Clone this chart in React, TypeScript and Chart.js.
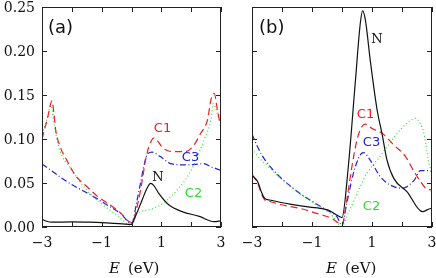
import { useEffect, useRef } from "react";
import { Chart, registerables } from "chart.js";
Chart.register(...registerables);

// ---- axes ----
const xTicks = [-3, -2, -1, 0, 1, 2, 3];
const xTickLabels = ["−3", "", "−1", "", "1", "", "3"];
const yTicks = [0, 0.05, 0.1, 0.15, 0.2, 0.25];
const yTickLabels = ["0.00", "0.05", "0.10", "0.15", "0.20", "0.25"];

// ---- panel (a) ----
const aNx = [-3, -2.85, -2.67, -2, -1.5, -1, -0.3, 0, 0.13, 0.36, 0.52, 0.64, 0.75, 0.92, 1.26, 1.7, 2.27, 2.77, 3];
const aNy = [0.0087, 0.0065, 0.0055, 0.0058, 0.0055, 0.005, 0.0035, 0.003, 0.012, 0.031, 0.044, 0.0495, 0.047, 0.038, 0.025, 0.0175, 0.012, 0.006, 0.007];

const aC1x = [-3, -2.82, -2.66, -2.6, -2.54, -2.39, -2.17, -1.89, -1.5, -1.11, -0.71, -0.37, 0, 0.24, 0.36, 0.47, 0.58, 0.75, 1.08, 1.42, 1.81, 2.09, 2.32, 2.55, 2.66, 2.77, 2.88, 3];
const aC1y = [0.1, 0.123, 0.1435, 0.129, 0.11, 0.091, 0.076, 0.059, 0.046, 0.034, 0.025, 0.016, 0.005, 0.031, 0.053, 0.076, 0.091, 0.101, 0.089, 0.0856, 0.0856, 0.093, 0.1065, 0.122, 0.144, 0.152, 0.133, 0.112];

const aC2x = [-3, -2.85, -2.7, -2.58, -2.45, -2, -1.5, -0.95, -0.49, 0, 0.19, 0.52, 0.97, 1.42, 1.76, 2.09, 2.43, 2.66, 2.74, 2.94, 3];
const aC2y = [0.106, 0.12, 0.138, 0.115, 0.092, 0.065, 0.042, 0.025, 0.0136, 0.002, 0.0155, 0.019, 0.025, 0.038, 0.0515, 0.0705, 0.099, 0.1216, 0.14, 0.122, 0.118];

const aC3x = [-3, -2.56, -2.23, -1.78, -1.27, -0.82, -0.37, 0, 0.19, 0.3, 0.41, 0.52, 0.69, 0.97, 1.31, 1.87, 2.43, 2.66, 2.94, 3];
const aC3y = [0.0716, 0.061, 0.053, 0.044, 0.0345, 0.025, 0.0155, 0.004, 0.031, 0.0496, 0.0685, 0.082, 0.085, 0.08, 0.072, 0.0705, 0.072, 0.0685, 0.065, 0.064];

// ---- panel (b) ----
const bNx = [-3, -2.92, -2.81, -2.69, -2.58, -2.41, -1.74, -1.07, -0.73, -0.46, -0.12, 0, 0.21, 0.44, 0.61, 0.69, 0.78, 0.94, 1.17, 1.34, 1.5, 1.73, 2.17, 2.68, 2.96, 3];
const bNy = [0.059, 0.056, 0.0515, 0.04, 0.0326, 0.0307, 0.026, 0.0225, 0.0212, 0.0193, 0.0125, 0.0106, 0.0685, 0.163, 0.2315, 0.2455, 0.235, 0.19, 0.133, 0.105, 0.076, 0.055, 0.04, 0.0174, 0.021, 0.021];

const bC1x = [-3, -2.92, -2.81, -2.69, -2.58, -2.41, -1.97, -1.41, -0.85, -0.35, 0, 0.16, 0.33, 0.5, 0.66, 0.78, 1.0, 1.34, 1.73, 2.12, 2.4, 2.62, 2.79, 3];
const bC1y = [0.059, 0.056, 0.05, 0.038, 0.031, 0.029, 0.025, 0.0212, 0.0155, 0.0099, 0.003, 0.0307, 0.0685, 0.099, 0.114, 0.117, 0.112, 0.1065, 0.093, 0.08, 0.063, 0.0515, 0.044, 0.042];

const bC2x = [-3, -2.75, -2.41, -1.97, -1.41, -0.85, -0.4, 0, 0.21, 0.5, 0.83, 1.17, 1.5, 1.84, 2.17, 2.45, 2.6, 2.73, 2.79, 2.9, 3];
const bC2y = [0.089, 0.078, 0.067, 0.053, 0.038, 0.025, 0.0155, 0.001, 0.0155, 0.038, 0.061, 0.076, 0.091, 0.1065, 0.118, 0.1235, 0.118, 0.1065, 0.095, 0.072, 0.062];

const bC3x = [-3, -2.92, -2.64, -2.19, -1.63, -1.07, -0.51, -0.17, 0, 0.16, 0.38, 0.61, 0.72, 0.94, 1.28, 1.61, 2.0, 2.4, 2.62, 2.85, 3];
const bC3y = [0.1055, 0.099, 0.08, 0.061, 0.044, 0.0307, 0.0193, 0.0117, 0.002, 0.027, 0.061, 0.082, 0.0845, 0.076, 0.057, 0.0477, 0.044, 0.053, 0.064, 0.064, 0.063];

const RED = "#ee2020";
const GREEN = "#30dd30";
const BLUE = "#2020dd";
const BLACK = "#111111";

const pts = (xs: number[], ys: number[]) => xs.map((x, i) => ({ x, y: ys[i] }));

function series(label: string, xs: number[], ys: number[], color: string, dash: number[]) {
  return {
    label,
    data: pts(xs, ys),
    borderColor: color,
    borderWidth: 1.2,
    borderDash: dash,
    pointRadius: 0,
    fill: false,
    cubicInterpolationMode: "monotone" as const,
  };
}

type Lbl = { text: string; x: number; y: number; color: string; font: string };

function makeDecor(opts: {
  showY: boolean;
  panel: string;
  panelX: number;
  eX: number;
  evX: number;
  labels: Lbl[];
}) {
  return {
    id: "decor" + opts.panel,
    afterDraw(chart: any) {
      const ctx = chart.ctx as CanvasRenderingContext2D;
      const { left, right, top, bottom } = chart.chartArea;
      const xs = chart.scales.x;
      const ys = chart.scales.y;
      ctx.save();
      ctx.strokeStyle = "#222";
      ctx.lineWidth = 1;
      ctx.strokeRect(left + 0.5, top + 0.5, right - left - 1, bottom - top - 1);
      ctx.beginPath();
      xTicks.forEach((v) => {
        const p = Math.round(xs.getPixelForValue(v)) + 0.5;
        ctx.moveTo(p, bottom);
        ctx.lineTo(p, bottom - 5);
        ctx.moveTo(p, top);
        ctx.lineTo(p, top + 5);
      });
      yTicks.forEach((v) => {
        const p = Math.round(ys.getPixelForValue(v)) + 0.5;
        ctx.moveTo(left, p);
        ctx.lineTo(left + 5, p);
        ctx.moveTo(right, p);
        ctx.lineTo(right - 5, p);
      });
      ctx.stroke();

      ctx.fillStyle = "#111";
      ctx.font = "14px 'DejaVu Serif'";
      ctx.textBaseline = "alphabetic";
      ctx.textAlign = "center";
      xTicks.forEach((v, i) => {
        const t = xTickLabels[i];
        if (!t) return;
        ctx.fillText(t, xs.getPixelForValue(v), 247);
      });
      if (opts.showY) {
        ctx.textAlign = "right";
        yTicks.forEach((v, i) => {
          ctx.fillText(yTickLabels[i], left - 7, ys.getPixelForValue(v) + 5);
        });
      }
      // axis title
      ctx.textAlign = "left";
      ctx.font = "italic 15px 'DejaVu Serif'";
      ctx.fillText("E", opts.eX, 273);
      ctx.font = "15px 'DejaVu Serif'";
      ctx.fillText("(eV)", opts.evX, 273);

      // panel label
      ctx.font = "18px 'DejaVu Sans'";
      ctx.textBaseline = "middle";
      ctx.fillText(opts.panel, opts.panelX, 28);

      // curve labels
      ctx.textAlign = "center";
      opts.labels.forEach((l) => {
        ctx.fillStyle = l.color;
        ctx.font = l.font;
        ctx.fillText(l.text, l.x, l.y);
      });
      ctx.restore();
    },
  };
}

const SANS = "13px 'DejaVu Sans'";
const SERIF = "13px 'DejaVu Serif'";

function makeChart(
  canvas: HTMLCanvasElement,
  padding: { left: number; right: number; top: number; bottom: number },
  datasets: any[],
  plugin: any
) {
  return new Chart(canvas, {
    type: "line",
    data: { datasets },
    options: {
      animation: false,
      responsive: false,
      devicePixelRatio: 1,
      layout: { padding },
      plugins: { legend: { display: false }, tooltip: { enabled: false } },
      scales: {
        x: { type: "linear", min: -3, max: 3, display: false },
        y: { type: "linear", min: 0, max: 0.25, display: false },
      },
    },
    plugins: [plugin],
  });
}

export default function App() {
  const refA = useRef<HTMLCanvasElement>(null);
  const refB = useRef<HTMLCanvasElement>(null);

  useEffect(() => {
    const chartA = makeChart(
      refA.current!,
      { left: 42, right: 215, top: 7, bottom: 51 },
      [
        series("N", aNx, aNy, BLACK, []),
        series("C1", aC1x, aC1y, RED, [7, 4]),
        series("C2", aC2x, aC2y, GREEN, [1, 2.5]),
        series("C3", aC3x, aC3y, BLUE, [6, 2.5, 1, 2.5]),
      ],
      makeDecor({
        showY: true,
        panel: "(a)",
        panelX: 48,
        eX: 109,
        evX: 128,
        labels: [
          { text: "N", x: 158, y: 178, color: BLACK, font: SERIF },
          { text: "C1", x: 162.5, y: 129, color: RED, font: SANS },
          { text: "C3", x: 190.5, y: 158, color: BLUE, font: SANS },
          { text: "C2", x: 193.5, y: 194, color: GREEN, font: SANS },
        ],
      })
    );
    const chartB = makeChart(
      refB.current!,
      { left: 252, right: 4, top: 7, bottom: 51 },
      [
        series("N", bNx, bNy, BLACK, []),
        series("C1", bC1x, bC1y, RED, [7, 4]),
        series("C2", bC2x, bC2y, GREEN, [1, 2.5]),
        series("C3", bC3x, bC3y, BLUE, [6, 2.5, 1, 2.5]),
      ],
      makeDecor({
        showY: false,
        panel: "(b)",
        panelX: 259,
        eX: 326,
        evX: 345,
        labels: [
          { text: "N", x: 377, y: 40, color: BLACK, font: SERIF },
          { text: "C1", x: 365.5, y: 115, color: RED, font: SANS },
          { text: "C3", x: 371.5, y: 142.5, color: BLUE, font: SANS },
          { text: "C2", x: 371.5, y: 207, color: GREEN, font: SANS },
        ],
      })
    );
    return () => {
      chartA.destroy();
      chartB.destroy();
    };
  }, []);

  const cs: React.CSSProperties = { position: "absolute", left: 0, top: 0, width: 436, height: 278 };
  return (
    <div style={{ position: "fixed", left: 0, top: 0, width: 436, height: 278, background: "#fff" }}>
      <canvas ref={refA} width={436} height={278} style={cs} />
      <canvas ref={refB} width={436} height={278} style={cs} />
    </div>
  );
}
